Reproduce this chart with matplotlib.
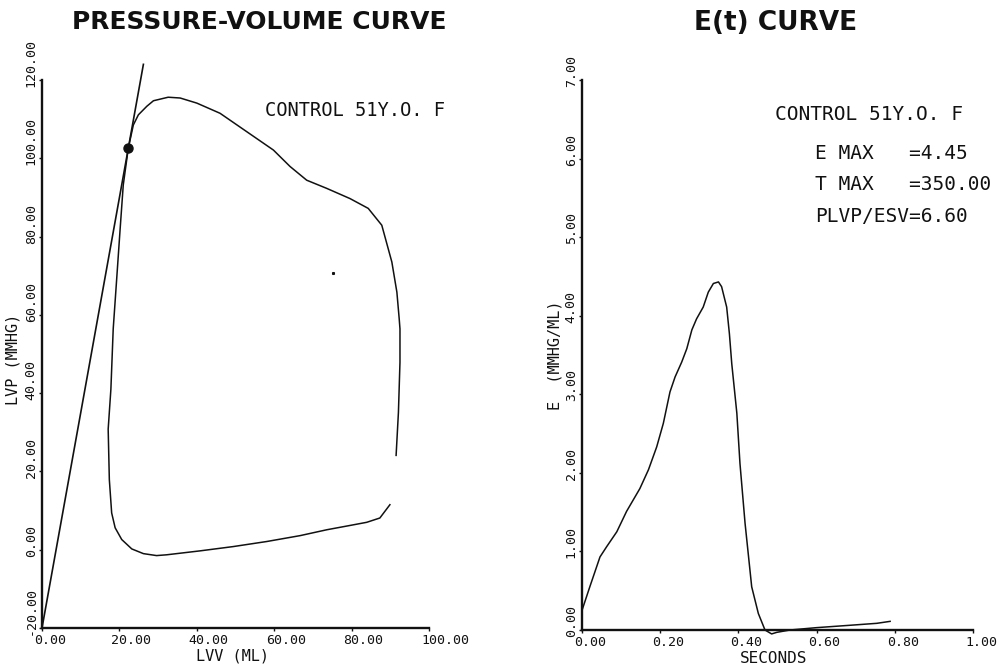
import matplotlib
matplotlib.use("Agg")
import matplotlib.pyplot as plt
from matplotlib.transforms import ScaledTranslation

# ---------------- data ----------------
# Pressure-volume loop (LVV in ml, LVP in mmHg)
pv_volume = [91.5, 92.1, 92.5, 92.5, 92.3, 91.7, 90.4, 87.8, 84.3, 79.6, 73.6, 68.4,
             64.1, 59.8, 52.9, 46.0, 40.0, 35.7, 32.6, 28.8, 27.1, 24.9, 23.6, 22.3,
             21.0, 20.2, 19.3, 18.4, 17.8, 17.1, 17.4, 18.0, 18.9, 20.6, 23.2, 26.2,
             29.6, 32.2, 40.8, 49.4, 58.1, 66.7, 73.6, 79.6, 83.9, 87.3, 89.9]
pv_pressure = [24.1, 35.1, 47.9, 56.4, 59.0, 65.8, 73.5, 82.9, 87.2, 89.7, 92.3, 94.4,
               97.9, 102.1, 106.8, 111.5, 114.1, 115.4, 115.6, 114.7, 113.3, 111.1, 108.5, 102.6,
               93.2, 82.1, 69.2, 56.4, 41.0, 30.8, 17.9, 9.4, 5.6, 2.6, 0.2, -1.0,
               -1.5, -1.3, -0.3, 0.8, 2.1, 3.6, 5.1, 6.2, 7.0, 8.1, 11.5]
# Emax tangent line endpoints
tangent_volume = [0.0, 26.2]
tangent_pressure = [-20.0, 124.0]
# end-systolic point
es_volume = [22.3]
es_pressure = [102.6]
# stray plotter dot
stray_volume = [75.3]
stray_pressure = [70.8]

# E(t) curve
et_time = [0.000, 0.020, 0.046, 0.063, 0.089, 0.114, 0.148, 0.170, 0.191, 0.208,
           0.225, 0.238, 0.255, 0.268, 0.281, 0.293, 0.310, 0.323, 0.336, 0.349,
           0.357, 0.370, 0.377, 0.383, 0.396, 0.404, 0.417, 0.434, 0.451, 0.468,
           0.485, 0.498, 0.532, 0.600, 0.685, 0.754, 0.788]
et_elast = [0.25, 0.55, 0.93, 1.06, 1.25, 1.51, 1.80, 2.04, 2.33, 2.63,
            3.03, 3.22, 3.41, 3.58, 3.82, 3.96, 4.11, 4.30, 4.41, 4.43,
            4.37, 4.11, 3.77, 3.39, 2.76, 2.12, 1.36, 0.55, 0.21, 0.00,
            -0.05, -0.03, 0.00, 0.03, 0.06, 0.085, 0.11]

pv_xticks = [0, 20, 40, 60, 80, 100]
pv_xticklabels = ["0.00", "20.00", "40.00", "60.00", "80.00", "100.00"]
pv_yticks = [-20, 0, 20, 40, 60, 80, 100, 120]
pv_yticklabels = ["-20.00", "0.00", "20.00", "40.00", "60.00", "80.00", "100.00", "120.00"]
et_xticks = [0.0, 0.2, 0.4, 0.6, 0.8, 1.0]
et_xticklabels = ["0.00", "0.20", "0.40", "0.60", "0.80", "1.00"]
et_yticks = [0, 1, 2, 3, 4, 5, 6, 7]
et_yticklabels = ["0.00", "1.00", "2.00", "3.00", "4.00", "5.00", "6.00", "7.00"]

# ---------------- figure ----------------
W, H = 1000, 665
fig = plt.figure(figsize=(W / 100, H / 100), dpi=100)
fig.patch.set_facecolor("white")

MONO = "DejaVu Sans Mono"
INK = "#111111"


def px_axes(x0, x1, ytop, ybot):
    return fig.add_axes([x0 / W, (H - ybot) / H, (x1 - x0) / W, (ybot - ytop) / H])


def style_axes(ax, xticks, xlabels, yticks, ylabels):
    for s in ("top", "right"):
        ax.spines[s].set_visible(False)
    for s in ("left", "bottom"):
        ax.spines[s].set_linewidth(1.7)
        ax.spines[s].set_color(INK)
    ax.set_xticks(xticks)
    ax.set_xticklabels(xlabels, fontfamily=MONO, fontsize=9.5, color=INK)
    ax.set_yticks(yticks)
    ax.set_yticklabels(ylabels, fontfamily=MONO, fontsize=9.5, color=INK,
                       rotation=90)
    ax.tick_params(axis="both", direction="out", length=2.5, width=1.0, color=INK)
    ax.tick_params(axis="x", pad=1.5)
    ax.tick_params(axis="y", pad=0.5)
    offx = ScaledTranslation(-8 / 100, 0, fig.dpi_scale_trans)
    offy = ScaledTranslation(0, -7 / 100, fig.dpi_scale_trans)
    for lab in ax.get_xticklabels():
        lab.set_horizontalalignment("left")
        lab.set_transform(lab.get_transform() + offx)
    for lab in ax.get_yticklabels():
        lab.set_verticalalignment("bottom")
        lab.set_transform(lab.get_transform() + offy)
    ax.set_facecolor("none")


# ---- left: pressure-volume ----
ax1 = px_axes(42, 429, 80, 628)
ax1.set_xlim(0, 100)
ax1.set_ylim(-20, 120)
style_axes(ax1, pv_xticks, pv_xticklabels, pv_yticks, pv_yticklabels)
ax1.plot(pv_volume, pv_pressure, color=INK, lw=1.1, clip_on=False,
         solid_joinstyle="round")
ax1.plot(tangent_volume, tangent_pressure, color=INK, lw=1.2, clip_on=False)
ax1.plot(es_volume, es_pressure, "o", color=INK, ms=6.5, clip_on=False)
ax1.plot(stray_volume, stray_pressure, "s", color=INK, ms=1.2, clip_on=False)
ax1.text(57.6, 112.2, "CONTROL 51Y.O. F", fontfamily=MONO, fontsize=13.5,
         color=INK, ha="left", va="center")
ax1.set_xlabel("LVV (ML)", fontfamily=MONO, fontsize=11, color=INK)
ax1.xaxis.set_label_coords(0.491, -0.037)
ax1.set_ylabel("LVP (MMHG)", fontfamily=MONO, fontsize=11, color=INK)
ax1.yaxis.set_label_coords(-0.055, 0.49)

# ---- right: E(t) ----
ax2 = px_axes(582, 973, 80, 630)
ax2.set_xlim(0, 1)
ax2.set_ylim(0, 7)
style_axes(ax2, et_xticks, et_xticklabels, et_yticks, et_yticklabels)
ax2.plot(et_time, et_elast, color=INK, lw=1.1, clip_on=False,
         solid_joinstyle="round")
ax2.text(0.494, 6.56, "CONTROL 51Y.O. F", fontfamily=MONO, fontsize=14,
         color=INK, ha="left", va="center")
for yv, s in [(6.07, "E MAX   =4.45"), (5.67, "T MAX   =350.00"),
              (5.26, "PLVP/ESV=6.60")]:
    ax2.text(0.596, yv, s, fontfamily=MONO, fontsize=14, color=INK,
             ha="left", va="center")
ax2.set_xlabel("SECONDS", fontfamily=MONO, fontsize=11.5, color=INK)
ax2.xaxis.set_label_coords(0.491, -0.039)
ax2.set_ylabel("E  (MMHG/ML)", fontfamily=MONO, fontsize=11, color=INK)
ax2.yaxis.set_label_coords(-0.05, 0.5)

# ---- titles ----
fig.text(259 / W, 1 - 22 / H, "PRESSURE-VOLUME CURVE", fontfamily="DejaVu Sans",
         fontweight="bold", fontsize=18, ha="center", va="center", color=INK)
fig.text(776 / W, 1 - 23 / H, "E(t) CURVE", fontfamily="DejaVu Sans",
         fontweight="bold", fontsize=19, ha="center", va="center", color=INK)

fig.savefig("out.png", dpi=100, facecolor="white")
